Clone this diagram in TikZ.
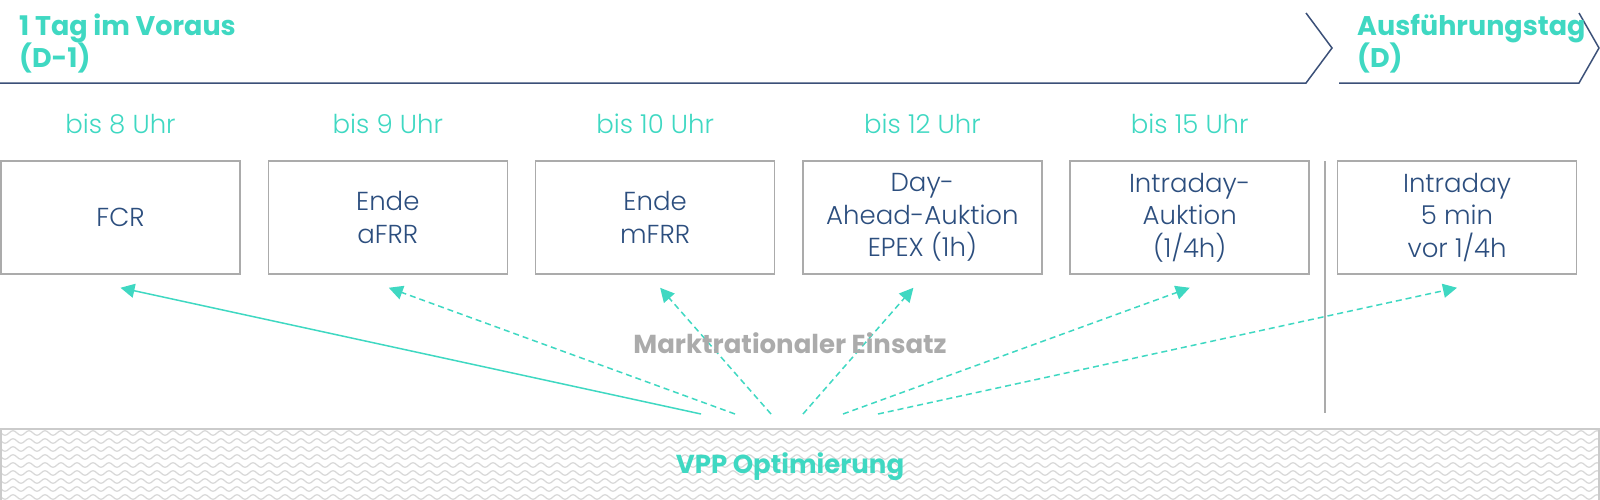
\documentclass[tikz,border=0pt]{standalone}
\usepackage{fontspec}
\setmainfont{Poppins}
\newfontfamily\lightf{Poppins Light}
\usetikzlibrary{arrows.meta,decorations.pathmorphing}
\definecolor{tealc}{HTML}{3FD8C2}
\definecolor{navyt}{HTML}{2C4E7E}
\definecolor{hline}{HTML}{3B5078}
\definecolor{boxg}{HTML}{ABABAB}
\definecolor{labg}{HTML}{ABABAB}
\definecolor{waveg}{HTML}{D9D9D9}
\begin{document}
\begin{tikzpicture}[x=1pt,y=-1pt,
  mbox/.style={draw=boxg,line width=1.5pt,minimum width=239pt,minimum height=113pt,inner sep=0pt,
    align=center,text=navyt,font=\lightf\fontsize{26}{32.5}\selectfont},
  timelab/.style={anchor=base,text=tealc,font=\lightf\fontsize{26}{30}\selectfont,inner sep=0pt},
  headlab/.style={anchor=base west,text=tealc,font=\fontsize{27}{32}\selectfont\bfseries,inner sep=0pt},
  hdr/.style={draw=hline,line width=1.5pt},
  arr/.style={draw=tealc,line width=1.5pt,-{Triangle[length=14pt,width=14pt]}},
  darr/.style={arr,dash pattern=on 6pt off 4pt},
  wave/.style={draw=waveg,line width=1.3pt,decorate,
    decoration={snake,segment length=16pt,amplitude=2.3pt}}
]
\useasboundingbox (0,0) rectangle (1600,499);

% header
\draw[hdr] (0,83) -- (1306,83) -- (1332,48) -- (1306,13);
\draw[hdr] (1339,83) -- (1579,83) -- (1599,48) -- (1579,13);
\node[headlab] (h1a) at (19,35) {1 Tag im Voraus};
\node[headlab] (h1b) at (19,67) {(D-1)};
\node[headlab] (h2a) at (1357,35) {Ausführungstag};
\node[headlab] (h2b) at (1357,67) {(D)};

% boxes
\node[mbox] (b1) at (120.5,217.5) {FCR};
\node[mbox] (b2) at (387.8,217.5) {Ende\\aFRR};
\node[mbox] (b3) at (655.1,217.5) {Ende\\mFRR};
\node[mbox] (b4) at (922.4,217.5) {Day-\\Ahead-Auktion\\EPEX (1h)};
\node[mbox] (b5) at (1189.7,217.5) {Intraday-\\Auktion\\(1/4h)};
\node[mbox] (b6) at (1457,217.5) {Intraday\\5 min\\vor 1/4h};

% time labels
\node[timelab] (t1) at (120.5,133) {bis 8 Uhr};
\node[timelab] (t2) at (387.8,133) {bis 9 Uhr};
\node[timelab] (t3) at (655.1,133) {bis 10 Uhr};
\node[timelab] (t4) at (922.4,133) {bis 12 Uhr};
\node[timelab] (t5) at (1189.7,133) {bis 15 Uhr};

% separator
\coordinate (sepa) at (1325,161);
\coordinate (sepb) at (1325,413);
\draw[boxg,line width=2pt] (sepa) -- (sepb);

% arrows
\coordinate (s1) at (701,414);
\coordinate (s2) at (735,414);
\coordinate (s3) at (771,414);
\coordinate (s4) at (803,414);
\coordinate (s5) at (843,414);
\coordinate (s6) at (878,414);
\draw[arr] (s1) -- ([yshift=-13pt]b1.south);
\draw[darr] (s2) -- ([xshift=1pt,yshift=-13pt]b2.south);
\draw[darr] (s3) -- ([xshift=5pt,yshift=-13pt]b3.south);
\draw[darr] (s4) -- ([xshift=-9pt,yshift=-13pt]b4.south);
\draw[darr] (s5) -- ([yshift=-13pt]b5.south);
\draw[darr] (s6) -- ([yshift=-13pt]b6.south);

\node[anchor=base,text=labg,font=\fontsize{26}{30}\selectfont\bfseries,inner sep=0pt] (mrk) at (790,353) {Marktrationaler Einsatz};

% bottom band
\begin{scope}
\clip (1,429) rectangle (1599,499);
\foreach \r in {0,...,9} {
  \draw[wave] (-8,{433+8*\r}) -- (1616,{433+8*\r});
}
\end{scope}
\draw[waveg!85!gray,line width=1.3pt] (1,505) -- (1,429) -- (1599,429) -- (1599,505);
\node[anchor=base,text=tealc,font=\fontsize{26}{32}\selectfont\bfseries,inner sep=0pt] (vpp) at (790,473) {VPP Optimierung};
\end{tikzpicture}
\end{document}
